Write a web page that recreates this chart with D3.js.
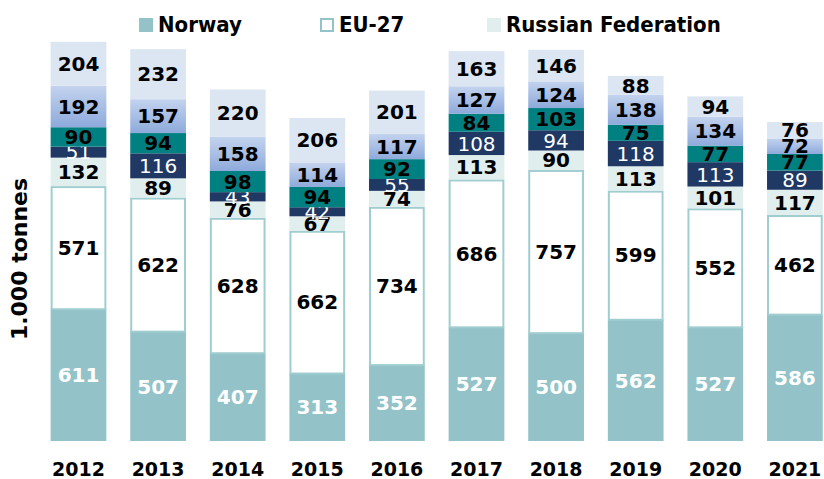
<!DOCTYPE html>
<html>
<head>
<meta charset="utf-8">
<script src="https://cdn.jsdelivr.net/npm/d3@7"></script>
<style>
  body { margin: 0; background: #fff; }
  svg { display: block; }
</style>
</head>
<body>
<svg id="chart" width="824" height="479"></svg>
<script>
const years = ["2012", "2013", "2014", "2015", "2016", "2017", "2018", "2019", "2020", "2021"];
const seriesNames = ["Norway", "EU-27", "Russian Federation", "Iceland", "Faroe Islands", "China", "Other"];

const norway  = [611, 507, 407, 313, 352, 527, 500, 562, 527, 586];
const eu27    = [571, 622, 628, 662, 734, 686, 757, 599, 552, 462];
const russia  = [132,  89,  76,  67,  74, 113,  90, 113, 101, 117];
const iceland = [ 51, 116,  43,  42,  55, 108,  94, 118, 113,  89];
const faroe   = [ 90,  94,  98,  94,  92,  84, 103,  75,  77,  77];
const china   = [192, 157, 158, 114, 117, 127, 124, 138, 134,  72];
const other   = [204, 232, 220, 206, 201, 163, 146,  88,  94,  76];

const legendNames = ["Norway", "EU-27", "Russian Federation"];

const fills = ["#93c3c8", "#ffffff", "#e0eeee", "#1f3864", "#008080", "url(#blueGrad)", "#dce6f2"];
const labelColors = ["#fff", "#000", "#000", "#fff", "#000", "#000", "#000"];
const labelWeights = ["bold", "bold", "bold", "normal", "bold", "bold", "bold"];

const svg = d3.select("#chart");

const defs = svg.append("defs");
const grad = defs.append("linearGradient").attr("id", "blueGrad")
  .attr("x1", 0).attr("y1", 0).attr("x2", 0).attr("y2", 1);
grad.append("stop").attr("offset", "0%").attr("stop-color", "#c3d3ee");
grad.append("stop").attr("offset", "100%").attr("stop-color", "#8eaadb");

const rows = years.map((y, i) => ({
  year: y,
  "Norway": norway[i], "EU-27": eu27[i], "Russian Federation": russia[i],
  "Iceland": iceland[i], "Faroe Islands": faroe[i], "China": china[i], "Other": other[i]
}));

const stack = d3.stack().keys(seriesNames)(rows);

const x = d3.scaleBand().domain(years).range([38.7, 834.7]).paddingInner(0.3).paddingOuter(0.15);
const y = d3.scaleLinear().domain([0, 2045]).range([441, 0]);

const layers = svg.append("g").selectAll("g")
  .data(stack).enter().append("g");

layers.each(function(layer, li) {
  const g = d3.select(this);
  if (li === 1) {
    g.selectAll("rect").data(layer).enter().append("rect")
      .attr("x", d => x(d.data.year) + 1)
      .attr("y", d => y(d[1]) + 1)
      .attr("width", x.bandwidth() - 2)
      .attr("height", d => y(d[0]) - y(d[1]) - 1)
      .attr("fill", "#fff")
      .attr("stroke", "#a0cdd0")
      .attr("stroke-width", 2);
  } else {
    g.selectAll("rect").data(layer).enter().append("rect")
      .attr("x", d => x(d.data.year))
      .attr("y", d => y(d[1]))
      .attr("width", x.bandwidth())
      .attr("height", d => y(d[0]) - y(d[1]))
      .attr("fill", fills[li]);
  }
});

layers.each(function(layer, li) {
  d3.select(this).selectAll("text").data(layer).enter().append("text")
    .attr("x", d => x(d.data.year) + x.bandwidth() / 2)
    .attr("y", d => (y(d[0]) + y(d[1])) / 2)
    .attr("dy", "0.36em")
    .attr("text-anchor", "middle")
    .attr("font-family", "DejaVu Sans")
    .attr("font-size", 20)
    .attr("font-weight", labelWeights[li])
    .attr("fill", labelColors[li])
    .text(d => d[1] - d[0]);
});

// x axis labels
svg.append("g").selectAll("text").data(years).enter().append("text")
  .attr("x", d => x(d) + x.bandwidth() / 2)
  .attr("y", 476)
  .attr("text-anchor", "middle")
  .attr("font-family", "DejaVu Sans")
  .attr("font-weight", "bold")
  .attr("font-size", 19)
  .text(d => d);

// y title
svg.append("text")
  .attr("transform", "translate(27,259) rotate(-90)")
  .attr("text-anchor", "middle")
  .attr("font-family", "DejaVu Sans")
  .attr("font-weight", "bold")
  .attr("font-size", 22)
  .text("1.000 tonnes");

// legend
const legendX = [139, 320, 487];
const leg = svg.append("g").selectAll("g").data(legendNames).enter().append("g")
  .attr("transform", (d, i) => `translate(${legendX[i]},0)`);
leg.append("rect")
  .attr("x", (d, i) => i === 1 ? 1 : 0)
  .attr("y", (d, i) => i === 1 ? 19 : 18)
  .attr("width", (d, i) => i === 1 ? 12 : 14)
  .attr("height", (d, i) => i === 1 ? 12 : 14)
  .attr("fill", (d, i) => fills[i])
  .attr("stroke", (d, i) => i === 1 ? "#93c3c8" : "none")
  .attr("stroke-width", 2);
leg.append("text")
  .attr("x", 19)
  .attr("y", 32)
  .attr("font-family", "DejaVu Sans Condensed")
  .attr("font-weight", "bold")
  .attr("font-size", 22)
  .text(d => d);
</script>
</body>
</html>
